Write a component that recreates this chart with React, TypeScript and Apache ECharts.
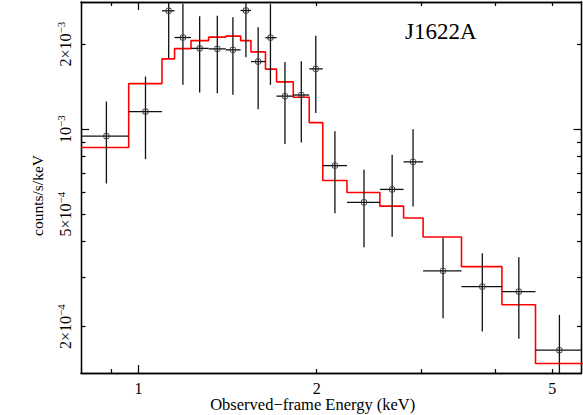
import React, { useEffect, useRef } from "react";
import * as echarts from "echarts";

// Spectrum bins (keV)
const binLow = [0.8, 0.963, 1.096, 1.151, 1.227, 1.314, 1.405, 1.488, 1.549, 1.639, 1.711, 1.826, 1.943, 2.048, 2.25, 2.557, 2.804, 3.025, 3.512, 4.11, 4.683];
const binHigh = [0.963, 1.096, 1.151, 1.227, 1.314, 1.405, 1.488, 1.549, 1.639, 1.711, 1.826, 1.943, 2.048, 2.25, 2.557, 2.804, 3.025, 3.512, 4.11, 4.683, 5.7];
const energy = [0.883, 1.028, 1.125, 1.189, 1.269, 1.359, 1.444, 1.519, 1.593, 1.671, 1.768, 1.884, 1.993, 2.147, 2.404, 2.682, 2.909, 3.269, 3.808, 4.389, 5.139];
// counts/s/keV
const counts = [9.45e-4, 1.154e-3, 2.625e-3, 2.111e-3, 1.932e-3, 1.924e-3, 1.909e-3, 2.631e-3, 1.735e-3, 2.109e-3, 1.309e-3, 1.321e-3, 1.635e-3, 7.43e-4, 5.51e-4, 6.12e-4, 7.66e-4, 3.15e-4, 2.77e-4, 2.66e-4, 1.65e-4];
const countsHigh = [1.253e-3, 1.536e-3, 3.3e-3, 2.779e-3, 2.513e-3, 2.519e-3, 2.492e-3, 3.3e-3, 2.297e-3, 2.779e-3, 1.728e-3, 1.741e-3, 2.14e-3, 9.84e-4, 7.18e-4, 8.11e-4, 1.0e-3, 4.13e-4, 3.64e-4, 3.52e-4, 2.2e-4];
const countsLow = [6.42e-4, 7.83e-4, 1.784e-3, 1.435e-3, 1.348e-3, 1.341e-3, 1.323e-3, 1.799e-3, 1.177e-3, 1.435e-3, 8.87e-4, 8.97e-4, 1.14e-3, 5.04e-4, 3.82e-4, 4.16e-4, 5.32e-4, 2.14e-4, 1.92e-4, 1.81e-4, 1.2e-4];
// folded model
const model = [8.61e-4, 1.45e-3, 1.774e-3, 1.929e-3, 2.059e-3, 2.117e-3, 2.135e-3, 2.059e-3, 1.878e-3, 1.631e-3, 1.471e-3, 1.298e-3, 1.055e-3, 6.58e-4, 5.97e-4, 5.34e-4, 4.85e-4, 4.15e-4, 3.26e-4, 2.39e-4, 1.48e-4];

// Axis ranges and ticks
const xRange = [0.8, 5.6];
const yRange = [1.37e-4, 2.82e-3];
const xMajorTicks = [1];
const xMinorTicks = [0.9, 2, 3, 4, 5];
const xTickValues = [1, 2, 5];
const xTickLabels = ["1", "2", "5"];
const yMajorTicks = [1e-3];
const yMinorTicks = [2e-4, 3e-4, 4e-4, 5e-4, 6e-4, 7e-4, 8e-4, 9e-4, 2e-3];
const yTickValues = [2e-4, 5e-4, 1e-3, 2e-3];
const yTickBase = ["2×10", "5×10", "10", "2×10"];
const yTickExp = ["−4", "−4", "−3", "−3"];

const sourceName = "J1622A";
const xTitle = "Observed−frame Energy (keV)";
const yTitle = "counts/s/keV";

const L = Math.log10;
const FONT = "'Liberation Serif', 'Times New Roman', serif";

function nearestIndex(arr: number[], v: number) {
  let best = 0;
  let bd = Infinity;
  arr.forEach((a, i) => {
    const d = Math.abs(L(a) - v);
    if (d < bd) {
      bd = d;
      best = i;
    }
  });
  return best;
}

export default function App() {
  const ref = useRef<HTMLDivElement>(null);
  useEffect(() => {
    if (!ref.current) return;
    const chart = echarts.init(ref.current, null, { renderer: "svg" });

    const errData = energy.map((e, i) => [
      L(e),
      L(counts[i]),
      L(binLow[i]),
      L(binHigh[i]),
      L(countsLow[i]),
      L(countsHigh[i]),
    ]);
    const modelLine: number[][] = [];
    model.forEach((m, i) => {
      modelLine.push([L(binLow[i]), L(m)]);
      modelLine.push([L(binHigh[i]), L(m)]);
    });

    const xmin = L(xRange[0]);
    const xmax = L(xRange[1]);
    const ymin = L(yRange[0]);
    const ymax = L(yRange[1]);
    const axisLineStyle = { color: "#000", width: 1.3 };

    const mkX = (pos: string, ticks: number[], len: number, main: boolean) => ({
      type: "value",
      position: pos,
      min: xmin,
      max: xmax,
      axisLine: { show: true, onZero: false, lineStyle: axisLineStyle },
      axisTick: {
        show: true,
        inside: true,
        length: len,
        customValues: ticks.map(L),
        lineStyle: { color: "#000", width: 1.2 },
      },
      axisLabel: main
        ? {
            show: true,
            customValues: xTickValues.map(L),
            margin: 7,
            formatter: (v: number) => xTickLabels[nearestIndex(xTickValues, v)],
            color: "#000",
            fontFamily: FONT,
            fontSize: 16,
          }
        : { show: false },
      splitLine: { show: false },
      name: main ? xTitle : "",
      nameLocation: "middle",
      nameGap: 23,
      nameMoveOverlap: false,
      nameTextStyle: {
        fontFamily: FONT,
        fontSize: 16.5,
        color: "#000",
        padding: [0, 37, 0, 0],
      },
    });

    const mkY = (pos: string, ticks: number[], len: number, main: boolean) => ({
      type: "value",
      position: pos,
      min: ymin,
      max: ymax,
      axisLine: { show: true, onZero: false, lineStyle: axisLineStyle },
      axisTick: {
        show: true,
        inside: true,
        length: len,
        customValues: ticks.map(L),
        lineStyle: { color: "#000", width: 1.2 },
      },
      axisLabel: main
        ? {
            show: true,
            customValues: yTickValues.map(L),
            rotate: 90,
            margin: 8,
            formatter: (v: number) => {
              const i = nearestIndex(yTickValues, v);
              return `{b|${yTickBase[i]}}{s|${yTickExp[i]}}`;
            },
            rich: {
              b: { fontFamily: FONT, fontSize: 16, color: "#000", lineHeight: 18, verticalAlign: "bottom" },
              s: { fontFamily: FONT, fontSize: 11, color: "#000", lineHeight: 18, verticalAlign: "top", padding: [0, 0, 8, 0] },
            },
          }
        : { show: false },
      splitLine: { show: false },
      name: main ? yTitle : "",
      nameLocation: "middle",
      nameGap: 36,
      nameMoveOverlap: false,
      nameTextStyle: {
        fontFamily: FONT,
        fontSize: 15.5,
        color: "#000",
        padding: [0, 16, 0, 0],
      },
    });

    chart.setOption({
      animation: false,
      backgroundColor: "#fff",
      grid: { left: 81, right: 1.5, top: 2, bottom: 42, containLabel: false, outerBoundsMode: "none" },
      xAxis: [
        mkX("bottom", xMajorTicks, 8, true),
        mkX("bottom", xMinorTicks, 4, false),
        mkX("top", xMajorTicks, 8, false),
        mkX("top", xMinorTicks, 4, false),
      ],
      yAxis: [
        mkY("left", yMajorTicks, 8, true),
        mkY("left", yMinorTicks, 4.5, false),
        mkY("right", yMajorTicks, 8, false),
        mkY("right", yMinorTicks, 4.5, false),
      ],
      graphic: [
        {
          type: "text",
          left: 405,
          top: 20,
          style: {
            text: sourceName,
            fontFamily: FONT,
            fontSize: 23,
            fill: "#000",
          },
        },
      ],
      series: [
        {
          type: "line",
          xAxisIndex: 0,
          yAxisIndex: 0,
          data: modelLine,
          showSymbol: false,
          symbol: "none",
          clip: true,
          lineStyle: { color: "#ff0000", width: 1.6 },
          z: 2,
        },
        {
          type: "custom",
          xAxisIndex: 0,
          yAxisIndex: 0,
          data: errData,
          encode: { x: [0, 2, 3], y: [1, 4, 5] },
          z: 3,
          renderItem: (params: any, api: any) => {
            const cs = params.coordSys;
            const cx = (v: number) => Math.max(cs.x, Math.min(cs.x + cs.width, v));
            const cy = (v: number) => Math.max(cs.y, Math.min(cs.y + cs.height, v));
            const xc = api.value(0);
            const yc = api.value(1);
            const c = api.coord([xc, yc]);
            const pl = api.coord([api.value(2), yc]);
            const ph = api.coord([api.value(3), yc]);
            const pb = api.coord([xc, api.value(4)]);
            const pt = api.coord([xc, api.value(5)]);
            const st = { stroke: "#111", lineWidth: 1.3 };
            return {
              type: "group",
              children: [
                { type: "line", shape: { x1: cx(pl[0]), y1: c[1], x2: cx(ph[0]), y2: c[1] }, style: st },
                { type: "line", shape: { x1: c[0], y1: cy(pt[1]), x2: c[0], y2: cy(pb[1]) }, style: st },
                {
                  type: "rect",
                  shape: { x: c[0] - 2.5, y: c[1] - 2.5, width: 5, height: 5, r: 1 },
                  style: { stroke: "#333", fill: "none", lineWidth: 1 },
                },
              ],
            };
          },
        },
      ],
    });
    return () => chart.dispose();
  }, []);
  return <div ref={ref} style={{ width: 583, height: 415, position: "absolute", left: 0, top: 0 }} />;
}
